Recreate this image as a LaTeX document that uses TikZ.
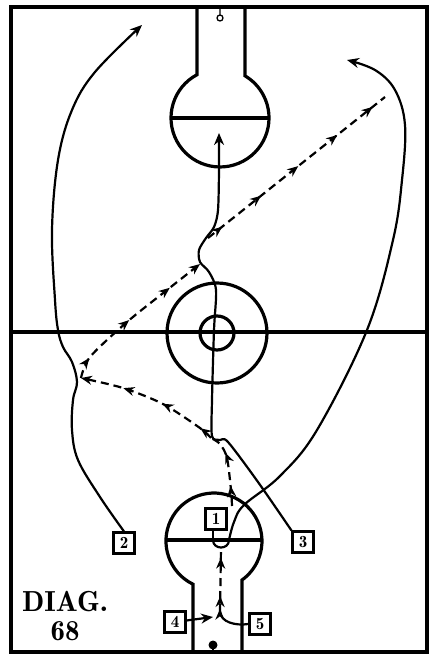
\documentclass[tikz,border=0pt]{standalone}
\usepackage{fontspec}
\newfontfamily\diagfont{Latin Modern Roman Demi}
\usetikzlibrary{arrows.meta,decorations.markings}
\tikzset{
  court/.style={line width=3.2pt},
  run/.style={line width=2.2pt},
  cut/.style={run, -{Stealth[length=12pt,width=10pt]}},
  pass/.style={run, dash pattern=on 8pt off 5pt, postaction={decorate}},
  player/.style={draw, line width=2.6pt, minimum size=20.5pt, inner sep=0pt, fill=white,
    font=\diagfont\fontsize{17}{17}\selectfont},
  >={Stealth[length=11pt,width=9pt]}
}
\begin{document}
\begin{tikzpicture}[x=1pt,y=-1pt]
    \useasboundingbox (0,0) rectangle (430,656);
    % the court
    \draw[court] (11,7) rectangle (427,652);
    \draw[court] (11,332) -- (427,332);% center line
    \draw[court] (217,333) circle[radius=50pt];
    \draw[court] (217,333) circle[radius=17pt];
    % top keyhole
    \draw[court] (197,7) -- (197,74.7) arc[start angle=118, end angle=419.3, radius=49pt] -- (245,7);
    \draw[court] (171,118) -- (269,118);
    \draw[line width=1.3pt] (220,18) circle[radius=3pt] (220,7) -- (220,15);
    % bottom keyhole
    \draw[court] (193,652) -- (193,584.2) arc[start angle=244.1, end angle=-54.3, radius=48pt] -- (242,652);
    \draw[court] (166,540) -- (262,540);
    \fill (213,645) circle[radius=4.5pt];
    \draw[line width=2pt] (213,645) -- (213,652);
    % players
    \node[player] (p1) at (216,519) {1};
    \node[player] (p2) at (124,543) {2};
    \node[player] (p3) at (303,542) {3};
    \node[player] (p4) at (175,622) {4};
    \node[player] (p5) at (260,624) {5};
    \node[font=\diagfont\fontsize{29}{29}\selectfont, align=center] (diag) at (65,616) {DIAG.\\68};
    % free ends
    \coordinate (s1) at (213,540);
    \coordinate (c1) at (347,60);
    \coordinate (c2) at (142,25);
    \coordinate (c3) at (219,133);
    \coordinate (a4) at (213,617);
    \coordinate (d5) at (220,612);
    \coordinate (b0) at (232,506);
    \coordinate (k1) at (211,438);
    \coordinate (k2) at (81,378);
    \coordinate (k3) at (200,264);
    \coordinate (k4) at (208,238);
    \coordinate (k5) at (385,97);
    % 1 drops back and goes up the right side
    \draw[run] (p1.south -| s1) -- (s1);
    \draw[run] (s1) .. controls (213,550) and (229,550) .. (229,540);
    \draw[cut] plot[smooth, tension=0.6] coordinates {(229,540) (234,522) (244,505) (280,476) (317,430) (367,330) (393,240) (402,180) (405,125) (395,90) (375,70) (c1)};
    % 2 goes up the left side
    \draw[cut] plot[smooth, tension=0.6] coordinates {(p2.north) (100,497) (78,460) (72,430) (73,400) (77,382) (72,362) (63,347) (58,330) (55,300) (52,230) (58,160) (72,110) (95,72) (c2)};
    % 3 cuts to the middle and under the basket
    \draw[cut] plot[smooth, tension=0.5] coordinates {(p3.north west) (258,482) (228,442) (220,440) (212,436) (212,400) (214,330) (216,290) (209,272) (200,262) (199,250) (206,238) (214,227) (218,210) (219,170) (c3)};
    % 4 steps in
    \draw[cut] (p4) -- (a4);
    % 5 comes round and feeds 1
    \draw[run] (p5.west) .. controls (235,626) and (221,622) .. (d5);
    \draw[pass, decoration={markings, mark=at position 0.05 with {\arrow{>}}, mark=at position 0.25 with {\arrow{>}}, mark=at position 0.85 with {\arrow{>}}}] (d5) -- (221,548);
    % the ball
    \draw[pass, decoration={markings, mark=at position 0.27 with {\arrow{>}}, mark=at position 0.72 with {\arrow{>}}}] plot[smooth] coordinates {(b0) (231,490) (227,458) (220,444) (k1)};
    \draw[pass, ->, decoration={markings, mark=at position 0.1 with {\arrow{>}}, mark=at position 0.41 with {\arrow{>}}, mark=at position 0.7 with {\arrow{>}}}] plot[smooth] coordinates {(k1) (200,428) (163,404) (123,388) (k2)};
    \draw[pass, ->, decoration={markings, mark=at position 0.13 with {\arrow{>}}, mark=at position 0.46 with {\arrow{>}}, mark=at position 0.77 with {\arrow{>}}}] plot[smooth] coordinates {(k2) (90,357) (127,322) (167,290) (k3)};
    \draw[pass, decoration={markings, mark=at position 0.08 with {\arrow{>}}, mark=at position 0.3 with {\arrow{>}}, mark=at position 0.51 with {\arrow{>}}, mark=at position 0.73 with {\arrow{>}}, mark=at position 0.93 with {\arrow{>}}}] (k4) -- (k5);
\end{tikzpicture}
\end{document}
